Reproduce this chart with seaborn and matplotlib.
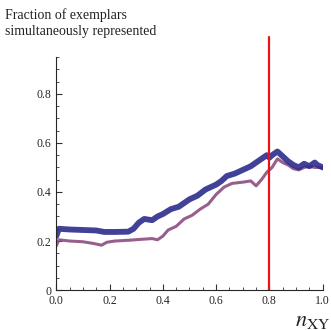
import numpy as np
import pandas as pd
import matplotlib
matplotlib.use("Agg")
import matplotlib.pyplot as plt
from matplotlib.ticker import MultipleLocator, FuncFormatter
import seaborn as sns

# curva azul (gruesa)
x_azul = [0.0, 0.01, 0.05, 0.10, 0.15, 0.18, 0.22, 0.27, 0.29, 0.31, 0.33, 0.36, 0.38,
          0.40, 0.43, 0.46, 0.50, 0.53, 0.56, 0.60, 0.62, 0.64, 0.67, 0.70, 0.73,
          0.75, 0.77, 0.79, 0.80, 0.81, 0.83, 0.85, 0.87, 0.89, 0.91, 0.93, 0.95,
          0.97, 0.98, 1.0]
y_azul = [0.22, 0.25, 0.247, 0.245, 0.243, 0.237, 0.237, 0.238, 0.25, 0.275, 0.29, 0.285, 0.30,
          0.31, 0.33, 0.34, 0.37, 0.385, 0.41, 0.43, 0.445, 0.465, 0.475, 0.49, 0.505,
          0.52, 0.535, 0.55, 0.54, 0.55, 0.565, 0.545, 0.525, 0.51, 0.50, 0.515, 0.505,
          0.52, 0.51, 0.50]

# curva rosa (delgada)
x_rosa = [0.0, 0.01, 0.05, 0.10, 0.14, 0.17, 0.19, 0.22, 0.27, 0.32, 0.36, 0.38, 0.40,
          0.42, 0.45, 0.48, 0.51, 0.54, 0.57, 0.60, 0.63, 0.66, 0.70, 0.73, 0.75,
          0.77, 0.79, 0.81, 0.83, 0.85, 0.87, 0.89, 0.91, 0.93, 0.95, 0.97, 1.0]
y_rosa = [0.18, 0.205, 0.20, 0.197, 0.19, 0.183, 0.195, 0.20, 0.203, 0.207, 0.21, 0.205, 0.22,
          0.245, 0.26, 0.29, 0.305, 0.33, 0.35, 0.39, 0.42, 0.435, 0.44, 0.445, 0.425,
          0.45, 0.48, 0.50, 0.535, 0.52, 0.51, 0.495, 0.49, 0.50, 0.505, 0.50, 0.50]

linea_roja = 0.8

df_azul = pd.DataFrame({"x": x_azul, "y": y_azul})
df_rosa = pd.DataFrame({"x": x_rosa, "y": y_rosa})

sns.set_style("ticks")
plt.rcParams["font.family"] = ["Liberation Serif", "DejaVu Serif"]
plt.rcParams["mathtext.fontset"] = "stix"

fig = plt.figure(figsize=(3.31, 3.30), dpi=100)
ax = fig.add_axes([0.17, 0.121, 0.805, 0.706])

sns.lineplot(data=df_rosa, x="x", y="y", ax=ax, color="#8c4f80", linewidth=2.2, alpha=0.9)
sns.lineplot(data=df_azul, x="x", y="y", ax=ax, color="#2c2c8c", linewidth=4.2, alpha=0.9)

ax.axvline(linea_roja, ymin=0, ymax=1.085, color="#e8141a", linewidth=1.6, clip_on=False)

ax.set_xlim(0, 1.0)
ax.set_ylim(0, 0.95)
ax.xaxis.set_major_locator(MultipleLocator(0.2))
ax.xaxis.set_minor_locator(MultipleLocator(0.05))
ax.yaxis.set_major_locator(MultipleLocator(0.2))
ax.yaxis.set_minor_locator(MultipleLocator(0.05))
ax.yaxis.set_major_formatter(FuncFormatter(lambda v, p: "0" if abs(v) < 1e-9 else f"{v:.1f}"))
ax.tick_params(which="both", direction="in", labelsize=8.5, color="#333333")
ax.tick_params(which="major", length=4, width=0.8)
ax.tick_params(which="minor", length=2.5, width=0.6)

for s in ["top", "right"]:
    ax.spines[s].set_visible(False)
ax.spines["left"].set_linewidth(0.8)
ax.spines["bottom"].set_linewidth(0.8)

ax.set_xlabel("")
ax.set_ylabel("")

fig.text(0.015, 0.975, "Fraction of exemplars\nsimultaneously represented",
         ha="left", va="top", fontsize=10, color="#222222", linespacing=1.25)
fig.text(0.997, -0.004, r"$n_{\mathrm{XY}}$", ha="right", va="bottom", fontsize=16,
         color="#222222")

fig.savefig("out.png", dpi=100)
